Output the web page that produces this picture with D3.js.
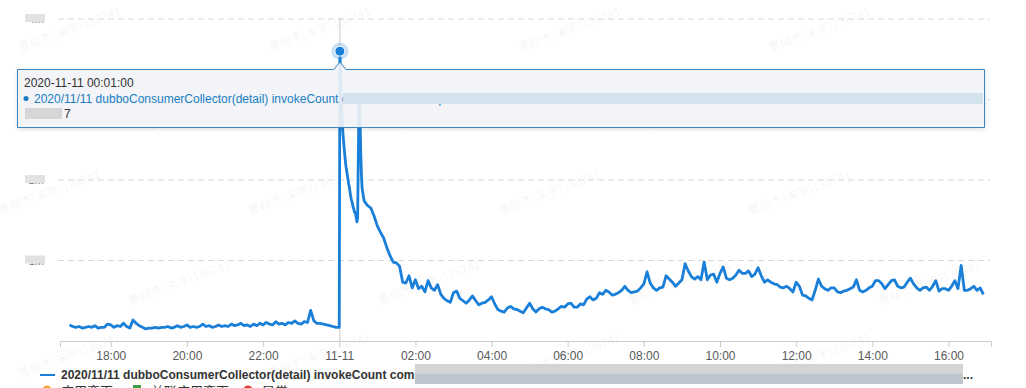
<!DOCTYPE html>
<html>
<head>
<meta charset="utf-8">
<script src="https://cdn.jsdelivr.net/npm/d3@7"></script>
<style>
  body { margin: 0; background: #fff; font-family: "Liberation Sans", Arial, sans-serif; }
  svg { display: block; }
</style>
</head>
<body>
<svg id="chart" width="1026" height="388"></svg>
<script>
// 数据：5分钟粒度（晚间）、1分钟粒度（零点突增）、5分钟粒度（白天）
const nightStart = new Date(2020, 10, 10, 16, 55);
const nightValues = [
  0.20, 0.18, 0.17, 0.18, 0.16, 0.17, 0.18, 0.17, 0.19, 0.16,
  0.17, 0.17, 0.21, 0.20, 0.17, 0.19, 0.18, 0.22, 0.18, 0.16,
  0.26, 0.22, 0.19, 0.17, 0.15, 0.16, 0.16, 0.17, 0.16, 0.17,
  0.17, 0.18, 0.16, 0.17, 0.19, 0.17, 0.18, 0.20, 0.17, 0.18,
  0.17, 0.18, 0.21, 0.18, 0.19, 0.17, 0.18, 0.20, 0.18, 0.19,
  0.18, 0.21, 0.19, 0.20, 0.22, 0.19, 0.20, 0.18, 0.21, 0.19,
  0.22, 0.20, 0.23, 0.21, 0.20, 0.24, 0.21, 0.22, 0.20, 0.23,
  0.22, 0.25, 0.22, 0.21, 0.24, 0.23, 0.38, 0.25, 0.22, 0.22,
  0.21, 0.20, 0.19, 0.18, 0.17, 0.17
];
const burstStart = new Date(2020, 10, 11, 0, 1);
const burstValues = [
  3.60, 3.37, 3.12, 2.89, 2.68, 2.56, 2.47, 2.37, 2.29, 2.21,
  2.15, 2.10, 2.05, 2.00, 1.95, 1.91, 1.85, 1.80, 1.76, 1.73,
  1.70, 1.66, 1.64, 1.60, 1.60, 1.57, 1.52, 1.48, 1.53, 2.25,
  2.93, 2.99, 2.68, 2.31, 2.06, 1.90, 1.85, 1.80, 1.75, 1.73
];
const dayStart = new Date(2020, 10, 11, 0, 45);
const dayValues = [
  1.68, 1.65, 1.55, 1.43, 1.35, 1.28, 1.16, 1.06, 0.98, 0.97,
  0.93, 0.73, 0.72, 0.81, 0.66, 0.76, 0.65, 0.68, 0.61, 0.75,
  0.66, 0.63, 0.70, 0.58,
  0.53, 0.50, 0.48, 0.60, 0.62, 0.53, 0.50, 0.47, 0.51, 0.56,
  0.50, 0.45, 0.47, 0.48, 0.51, 0.55, 0.46, 0.39, 0.37, 0.36,
  0.41, 0.43, 0.40, 0.39, 0.37, 0.35, 0.41, 0.47, 0.40, 0.36,
  0.40, 0.42, 0.40, 0.39, 0.36, 0.37, 0.40, 0.43, 0.42, 0.46,
  0.47, 0.42, 0.42, 0.46, 0.45, 0.52, 0.55, 0.51, 0.53, 0.60,
  0.58, 0.63, 0.61, 0.57, 0.58, 0.60, 0.63, 0.68, 0.63, 0.60,
  0.61, 0.62, 0.66, 0.71, 0.86, 0.72, 0.66, 0.63, 0.66, 0.67,
  0.81, 0.77, 0.73, 0.68, 0.72, 0.76, 0.96, 0.87, 0.80, 0.77,
  0.80,
  0.76, 0.98, 0.76, 0.82, 0.83, 0.73, 0.84, 0.92, 0.78, 0.76,
  0.78, 0.82, 0.88, 0.84, 0.84, 0.87, 0.80, 0.83, 0.91, 0.81,
  0.73, 0.76, 0.73, 0.71, 0.70, 0.67, 0.66, 0.68, 0.65, 0.61,
  0.73, 0.68, 0.57, 0.56, 0.53, 0.51, 0.63, 0.77, 0.68, 0.65,
  0.63, 0.66, 0.66, 0.61, 0.60, 0.62, 0.63, 0.65, 0.67, 0.76,
  0.63, 0.61, 0.63, 0.66, 0.68, 0.75, 0.75, 0.71, 0.65, 0.70,
  0.75, 0.76, 0.68, 0.66, 0.67, 0.73, 0.78, 0.71, 0.66, 0.63,
  0.66, 0.67, 0.63, 0.68, 0.75, 0.62, 0.65, 0.65, 0.63, 0.68,
  0.75, 0.65, 0.94, 0.63, 0.63, 0.65, 0.68, 0.63, 0.66, 0.58
];
const yTicks = [1, 2, 3, 4];
const yTickLabels = ['1M', '2M', '3M', '4M'];
const seriesName = '2020/11/11 dubboConsumerCollector(detail) invokeCount com.taobao.trade.platform';
const tooltipValue = '3,612,087';
const markerItems = ['应用变更', '关联应用变更', '异常'];
const markerColors = ['#f0a63c', '#3ea03e', '#e0403a'];
const watermarkText = '曹柳杰(未宇)136741';

const lineColor = '#1a7fd8';

function buildPoints(start, stepMin, values) {
  return values.map((v, i) => ({ t: d3.timeMinute.offset(start, i * stepMin), v: v }));
}
const points = [].concat(
  buildPoints(nightStart, 5, nightValues),
  buildPoints(burstStart, 1, burstValues),
  buildPoints(dayStart, 5, dayValues)
);

const svg = d3.select('#chart');

const x = d3.scaleTime()
  .domain([new Date(2020, 10, 10, 16, 40), new Date(2020, 10, 11, 17, 7)])
  .range([60, 991]);
const y = d3.scaleLinear().domain([0, 4]).range([341, 19]);

// 水印
const wm = svg.append('g').attr('class', 'watermark');
[[52, 0], [130, 130], [215, -20], [305, 110], [378, 0]].forEach(([wy, off]) => {
  for (let wx = off + 20; wx < 900; wx += 250) {
    wm.append('text')
      .attr('transform', `translate(${wx},${wy}) rotate(-20)`)
      .attr('font-family', '"Noto Sans CJK SC", sans-serif')
      .attr('font-size', 12)
      .attr('fill', '#000')
      .attr('fill-opacity', 0.06)
      .text(watermarkText);
  }
});

// 网格线
svg.append('g')
  .selectAll('line')
  .data(yTicks)
  .enter()
  .append('line')
  .attr('x1', 58).attr('x2', 990)
  .attr('y1', d => y(d)).attr('y2', d => y(d))
  .attr('stroke', '#d9d9d9')
  .attr('stroke-dasharray', '6,4');

// y轴标签（打码）
const yl = svg.append('g');
yl.selectAll('text')
  .data(yTicks)
  .enter()
  .append('text')
  .attr('x', 44).attr('y', d => y(d) + 4)
  .attr('text-anchor', 'end')
  .attr('font-size', 11)
  .attr('fill', '#777')
  .text((d, i) => yTickLabels[i]);
yl.selectAll('rect')
  .data(yTicks)
  .enter()
  .append('rect')
  .attr('x', 25).attr('y', d => y(d) - 5)
  .attr('width', 20).attr('height', 8)
  .attr('fill', '#e2e2e2');

// x轴
const xAxis = d3.axisBottom(x)
  .tickValues(d3.timeHour.every(2).range(new Date(2020, 10, 10, 18), new Date(2020, 10, 11, 17)))
  .tickSize(6)
  .tickPadding(4)
  .tickFormat(d => d.getHours() === 0 ? d3.timeFormat('%m-%d')(d) : d3.timeFormat('%H:%M')(d));
const gx = svg.append('g')
  .attr('transform', `translate(0,${y(0)})`)
  .call(xAxis);
gx.select('.domain').attr('stroke', '#ccc');
gx.selectAll('.tick line').attr('stroke', '#ccc');
gx.selectAll('.tick text')
  .attr('fill', '#595959')
  .attr('font-size', 12)
  .attr('font-family', '"Liberation Sans", Arial, sans-serif');

// 十字准线
const peak = points[nightValues.length];
svg.append('line')
  .attr('x1', x(peak.t)).attr('x2', x(peak.t))
  .attr('y1', 18).attr('y2', y(0))
  .attr('stroke', '#c8c8c8');

// 折线
const line = d3.line()
  .x(d => x(d.t))
  .y(d => y(d.v));
svg.append('path')
  .datum(points)
  .attr('fill', 'none')
  .attr('stroke', lineColor)
  .attr('stroke-width', 2.8)
  .attr('stroke-linejoin', 'round')
  .attr('d', line);

// 高亮点
svg.append('circle')
  .attr('cx', x(peak.t)).attr('cy', y(peak.v))
  .attr('r', 8.5)
  .attr('fill', lineColor).attr('fill-opacity', 0.25);
svg.append('circle')
  .attr('cx', x(peak.t)).attr('cy', y(peak.v))
  .attr('r', 5)
  .attr('fill', lineColor)
  .attr('stroke', '#fff').attr('stroke-width', 1);

// 提示框
const tip = svg.append('g');
const px = x(peak.t);
tip.append('path')
  .attr('d', `M17.5,69.5 H${px - 6} L${px},62 L${px + 6},69.5 H984.5 V127.5 H17.5 Z`)
  .attr('fill', '#f4f6f9')
  .attr('fill-opacity', 0.9)
  .attr('stroke', '#3a86c6')
  .attr('stroke-width', 1)
  .style('filter', 'drop-shadow(0 1px 2px rgba(0,0,0,0.15))');
tip.append('text')
  .attr('x', 24).attr('y', 87)
  .attr('font-size', 12).attr('fill', '#333')
  .text(d3.timeFormat('%Y-%m-%d %H:%M:%S')(peak.t));
tip.append('circle')
  .attr('cx', 26).attr('cy', 98.5).attr('r', 2.5)
  .attr('fill', '#1a7dc4');
tip.append('text')
  .attr('x', 34).attr('y', 103)
  .attr('font-size', 12).attr('fill', '#1a7dc4')
  .text(seriesName);
tip.append('rect')
  .attr('x', 343).attr('y', 93).attr('width', 640).attr('height', 11)
  .attr('fill', '#d2e3ed');
tip.append('rect')
  .attr('x', 25).attr('y', 108).attr('width', 37).attr('height', 11)
  .attr('fill', '#d6d6d6');
tip.append('text')
  .attr('x', 64).attr('y', 118)
  .attr('font-size', 12).attr('fill', '#333')
  .text(tooltipValue.slice(-1));

// 图例
const lg = svg.append('g');
lg.append('line')
  .attr('x1', 40).attr('x2', 55).attr('y1', 375).attr('y2', 375)
  .attr('stroke', lineColor).attr('stroke-width', 2);
lg.append('text')
  .attr('x', 61).attr('y', 379)
  .attr('font-size', 12).attr('font-weight', 'bold').attr('fill', '#333')
  .text(seriesName);
lg.append('rect')
  .attr('x', 415).attr('y', 364).attr('width', 548).attr('height', 10)
  .attr('fill', '#d4d4d4');
lg.append('rect')
  .attr('x', 415).attr('y', 374).attr('width', 548).attr('height', 10)
  .attr('fill', '#bcc5ce');
lg.append('text')
  .attr('x', 963).attr('y', 379)
  .attr('font-size', 12).attr('font-weight', 'bold').attr('fill', '#333')
  .text('...');

const markerX = [47, 137, 248];
markerItems.forEach((name, i) => {
  if (i === 1) {
    lg.append('rect').attr('x', markerX[i] - 4).attr('y', 385).attr('width', 8).attr('height', 8)
      .attr('fill', markerColors[i]);
  } else {
    lg.append('circle').attr('cx', markerX[i]).attr('cy', 390).attr('r', 4.5)
      .attr('fill', markerColors[i]);
  }
  lg.append('text')
    .attr('x', markerX[i] + 14).attr('y', 396)
    .attr('font-family', '"Noto Sans CJK SC", sans-serif')
    .attr('font-size', 13).attr('fill', '#333')
    .text(name);
});
</script>
</body>
</html>
